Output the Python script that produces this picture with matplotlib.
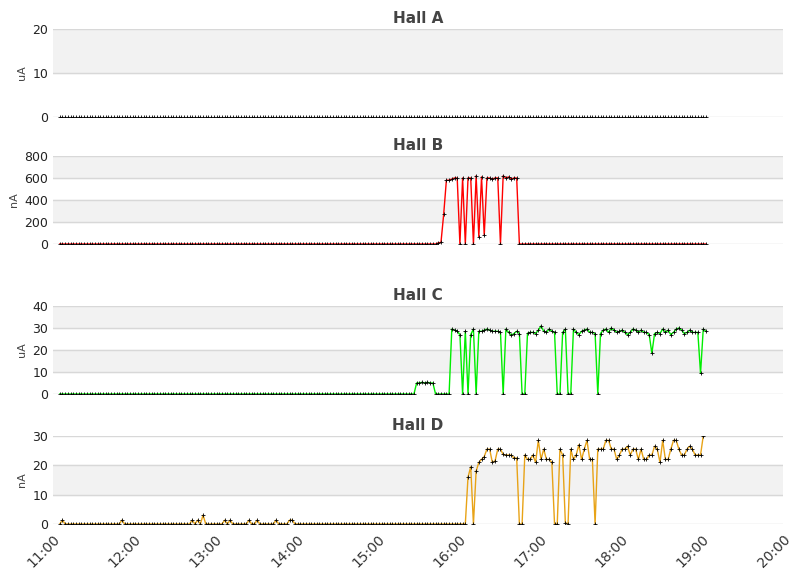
import matplotlib
matplotlib.use("Agg")
import matplotlib.pyplot as plt
import numpy as np

tick_labels = ["11:00","12:00","13:00","14:00","15:00","16:00","17:00","18:00","19:00","20:00"]
start_min = 5   # 11:05
step_min = 2

hall_a = [0]*240
hall_b = [0]*140 + [10,15,270,580,580,590,600,600,0,600,0,600,600,0,620,65,610,80,600,600,
                    590,600,600,0,620,600,610,590,600,600,0] + [0]*69
hall_c = [0]*132 + [5,5,5.3,5,5.3,5,5] + [0]*6 + [
    29.5,29,28.5,27,0,28.5,0,27,29.5,0,28.5,28.5,29,29.5,29,28.5,28.5,28.5,28,0,
    29.5,28,26.7,27.5,28.5,27.5,0,0,27.6,28,28,27.5,29,30.9,28.5,28,29.5,28.5,28,0,
    0,28,29.5,0,0,29.5,28,27,28.5,29,29.5,28,28,27.5,0,27.5,29,29.5,28,30,
    29,28,28.5,29,28,27,28,29.5,29,28,29,28,28,27,18.5,27.5,28,27.5,29.5,28,
    29,27,28,29.5,30,29,27.5,28,29,28,28,28,9.4,29.5,28.5]
hall_d = ([0,1.3] + [0]*21 + [1.3] + [0]*25 + [1.3,0,1.3,0,3] + [0]*7 + [1.3,0,1.3] + [0]*6
          + [1.3,0,0,1.3] + [0]*6 + [1.3] + [0]*4 + [1.3,1.3] + [0]*64 + [
    16,19.5,0,18,21,22,23,25.5,25.5,21,21.5,25.5,25.5,23.7,23.5,23.5,23.5,22.5,22.5,0,
    0,23.5,22,22,23.5,21,28.5,22,25.5,22,22,21,0,0,25.5,23.5,0.5,0,25.5,22,
    23.5,27,22,25.5,28.5,22,22,0,25.5,25.5,25.5,28.5,28.5,25.5,25.5,22,23.5,25.5,25.5,26.5,
    23.5,25.5,25.5,22,25.5,22,22,23.5,23.5,26.5,25.5,21,28.5,22,22,25.5,28.5,28.5,25.5,23.5,
    23.5,25.5,26.5,25.5,23.5,23.5,23.5,30])

panels = [("Hall A", hall_a, "uA", [0,10,20], "#000000"),
          ("Hall B", hall_b, "nA", [0,200,400,600,800], "#ff0000"),
          ("Hall C", hall_c, "uA", [0,10,20,30,40], "#00ee00"),
          ("Hall D", hall_d, "nA", [0,10,20,30], "#e8a317")]
rects = [(29,117),(156,244),(306,394),(436,524)]

W, H = 811, 578
fig = plt.figure(figsize=(W/100, H/100), dpi=100)
for (title, vals, unit, yt, col), (top, bot) in zip(panels, rects):
    ax = fig.add_axes([53/W, 1-bot/H, 730/W, (bot-top)/H])
    x = start_min + step_min*np.arange(len(vals))
    for k in range(len(yt)-1):
        if k % 2 == 1:
            ax.axhspan(yt[k], yt[k+1], color="#f2f2f2", zorder=0)
    for v in yt:
        ax.axhline(v, color="#d8d8d8", lw=1, zorder=1)
    if title != "Hall A":
        ax.plot(x, vals, color=col, lw=1, zorder=2)
    ax.plot(x, vals, ls="none", marker="+", ms=2.5, mew=0.6, color="black", zorder=3)
    ax.set_xlim(0, 540)
    ax.set_ylim(yt[0], yt[-1])
    ax.set_yticks(yt)
    ax.tick_params(axis="y", length=0, labelsize=9, colors="#222222")
    for s in ax.spines.values():
        s.set_visible(False)
    ax.set_title(title, fontsize=11, fontweight="bold", color="#444444", pad=4)
    ax.set_ylabel(unit, fontsize=8, color="#444444", labelpad=4)
    ax.set_xticks(np.arange(0, 541, 60))
    if title == "Hall D":
        ax.set_xticklabels(tick_labels, rotation=45, ha="right", rotation_mode="anchor", fontsize=10, color="#333333")
        ax.tick_params(axis="x", length=0, pad=6)
    else:
        ax.set_xticklabels([])
        ax.tick_params(axis="x", length=0)
fig.savefig("out.png", dpi=100)
